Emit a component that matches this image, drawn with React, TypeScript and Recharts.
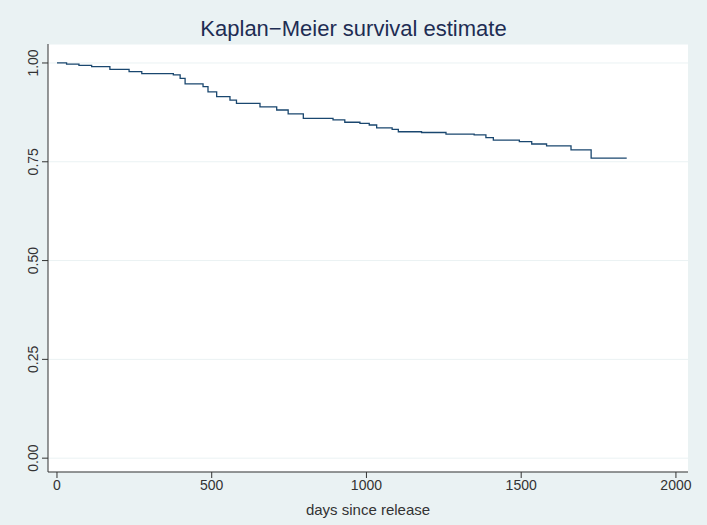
import { LineChart, Line, XAxis, YAxis, CartesianGrid } from "recharts";

const days = [0, 31, 71, 112, 171, 233, 274, 376, 398, 414, 472, 488, 516, 559, 580, 656, 710, 747, 796, 892, 930, 979, 1009, 1033, 1083, 1103, 1178, 1257, 1348, 1386, 1410, 1494, 1534, 1582, 1661, 1726, 1841];
const survival = [1.0, 0.997, 0.994, 0.991, 0.984, 0.978, 0.973, 0.97, 0.961, 0.947, 0.94, 0.927, 0.915, 0.906, 0.898, 0.889, 0.881, 0.871, 0.86, 0.856, 0.85, 0.847, 0.843, 0.836, 0.832, 0.826, 0.824, 0.82, 0.818, 0.811, 0.805, 0.801, 0.795, 0.79, 0.78, 0.759, 0.759];
const xTicks = [0, 500, 1000, 1500, 2000];
const yTicks = [0, 0.25, 0.5, 0.75, 1];

const data = days.map((d, i) => ({ d, s: survival[i] }));

const YTick = (props: any) => {
  const { x, y, payload } = props;
  return (
    <text x={x - 2} y={y} transform={`rotate(-90 ${x - 2} ${y})`} textAnchor="middle" fill="#333" fontSize={14} fontFamily="Liberation Sans, Arial">
      {payload.value.toFixed(2)}
    </text>
  );
};

export default function App() {
  return (
    <div style={{ position: "absolute", left: 0, top: 0, width: 707, height: 525, background: "#eaf2f3", fontFamily: "Liberation Sans, Arial" }}>
      <div style={{ position: "absolute", top: 16, width: 707, textAlign: "center", fontSize: 22, color: "#1e2d53" }}>
        Kaplan−Meier survival estimate
      </div>
      <LineChart width={707} height={525} data={data} margin={{ top: 44, right: 19, bottom: 0, left: 0 }}>
        <CartesianGrid horizontal vertical={false} fill="#ffffff" stroke="#eaf2f3" />
        <XAxis
          dataKey="d"
          type="number"
          domain={[-29, 2039]}
          ticks={xTicks}
          allowDataOverflow
          height={53}
          stroke="#333"
          tick={{ fill: "#333", fontSize: 14 }}
          tickSize={6}
          label={{ value: "days since release", position: "insideBottom", offset: 10, fill: "#333", fontSize: 15 }}
        />
        <YAxis
          type="number"
          domain={[-0.035, 1.048]}
          ticks={yTicks}
          allowDataOverflow
          width={48}
          stroke="#333"
          tick={<YTick />}
          tickSize={6}
        />
        <Line type="stepAfter" dataKey="s" stroke="#1a476f" strokeWidth={1.3} dot={false} isAnimationActive={false} />
      </LineChart>
    </div>
  );
}
